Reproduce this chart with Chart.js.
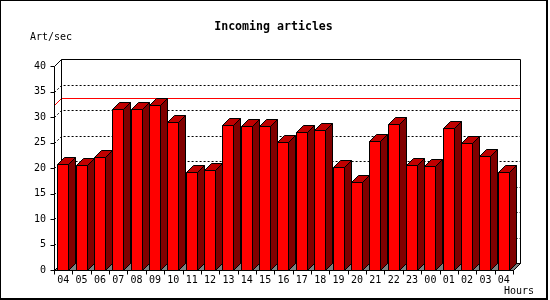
<!DOCTYPE html>
<html>
<head>
<meta charset="utf-8">
<title>Incoming articles</title>
<script src="https://cdn.jsdelivr.net/npm/chart.js@4/dist/chart.umd.min.js"></script>
<style>
  html, body { margin: 0; padding: 0; background: #fff; }
  #wrap { position: relative; width: 550px; height: 300px; }
</style>
</head>
<body>
<div id="wrap"><canvas id="chart" width="550" height="300"></canvas></div>
<script>
const hours = ['04', '05', '06', '07', '08', '09', '10', '11', '12', '13', '14', '15', '16',
               '17', '18', '19', '20', '21', '22', '23', '00', '01', '02', '03', '04'];
const articles = [20.8, 20.6, 22.2, 31.7, 31.7, 32.5, 29.1, 19.3, 19.7, 28.5, 28.3, 28.2, 25.2,
                  27.2, 27.5, 20.3, 17.3, 25.4, 28.7, 20.6, 20.5, 27.9, 25.0, 22.4, 19.3];
const yTicks = [0, 5, 10, 15, 20, 25, 30, 35, 40];

const titleText = 'Incoming articles';
const yUnit = 'Art/sec';
const xUnit = 'Hours';

const DEPTH = 7; // 3d offset of the back wall, px
const FONT = '"DejaVu Sans Mono", "Liberation Mono", monospace';

// crisp 1px line helper
function line(ctx, pts, color, dash) {
  ctx.save();
  ctx.strokeStyle = color;
  ctx.lineWidth = 1;
  ctx.setLineDash(dash || []);
  ctx.beginPath();
  pts.forEach(([x, y], i) => i ? ctx.lineTo(x + 0.5, y + 0.5) : ctx.moveTo(x + 0.5, y + 0.5));
  ctx.stroke();
  ctx.restore();
}

function poly(ctx, pts, fill) {
  ctx.beginPath();
  pts.forEach(([x, y], i) => i ? ctx.lineTo(x + 0.5, y + 0.5) : ctx.moveTo(x + 0.5, y + 0.5));
  ctx.closePath();
  ctx.fillStyle = fill;
  ctx.fill();
  ctx.strokeStyle = '#000';
  ctx.lineWidth = 1;
  ctx.stroke();
}

const bars3d = {
  id: 'bars3d',
  beforeDraw(chart) {
    const ctx = chart.ctx;
    // frame round the whole picture
    ctx.save();
    ctx.fillStyle = '#000';
    ctx.fillRect(0, 0, 548, 300);
    ctx.fillStyle = '#fff';
    ctx.fillRect(1, 1, 545, 297);
    ctx.restore();
  },
  beforeDatasetsDraw(chart) {
    const ctx = chart.ctx;
    const { left, right, bottom } = chart.chartArea;
    const ys = chart.scales.y, xs = chart.scales.x;
    const py = v => Math.round(ys.getPixelForValue(v));
    const x0 = Math.round(left), x1 = Math.round(right), yB = Math.round(bottom);
    const yT = py(yTicks[yTicks.length - 1]);
    const D = DEPTH;

    // floor
    ctx.save();
    poly(ctx, [[x0, yB], [x0 + D, yB - D], [x1 + D, yB - D], [x1, yB]], '#808080');
    ctx.restore();

    // dotted grid on the back wall
    yTicks.slice(1, -1).forEach(v => {
      const y = py(v);
      line(ctx, [[x0, y], [x0 + D, y - D], [x1 + D, y - D]], '#000', [2, 2]);
    });

    // peak line
    const r = py(Math.max(...articles));
    line(ctx, [[x0, r], [x0 + D, r - D], [x1 + D, r - D]], '#ff0000');

    // back wall
    line(ctx, [[x0 + D, yB - D], [x0 + D, yT - D], [x1 + D, yT - D], [x1 + D, yB - D]], '#000');
    line(ctx, [[x0, yT], [x0 + D, yT - D]], '#000');
    line(ctx, [[x1, yB], [x1 + D, yB - D]], '#000');

    // front axes
    line(ctx, [[x0, yT], [x0, yB], [x1, yB]], '#000');
    yTicks.forEach(v => line(ctx, [[x0 - 4, py(v)], [x0, py(v)]], '#000'));
    const n = hours.length;
    for (let i = 0; i <= n; i++) {
      const xp = Math.round(xs.getPixelForValue(i - 0.5));
      line(ctx, [[xp, yB], [xp, yB + 4]], '#000');
    }
  },
  afterDatasetsDraw(chart) {
    const ctx = chart.ctx;
    const D = DEPTH;
    const meta = chart.getDatasetMeta(0);
    ctx.save();
    meta.data.forEach(el => {
      const w = Math.round(el.width);
      const xl = Math.round(el.x - el.width / 2 - 0.5);
      const top = Math.round(el.y), base = Math.round(el.base);
      // front
      poly(ctx, [[xl, base], [xl, top], [xl + w, top], [xl + w, base]], '#ff0000');
      // top
      poly(ctx, [[xl, top], [xl + D, top - D], [xl + w + D, top - D], [xl + w, top]], '#c00000');
      // side
      poly(ctx, [[xl + w, top], [xl + w + D, top - D], [xl + w + D, base - D], [xl + w, base]], '#800000');
    });
    ctx.restore();
  },
  afterDraw(chart) {
    const ctx = chart.ctx;
    ctx.save();
    ctx.fillStyle = '#000';
    ctx.textBaseline = 'middle';
    ctx.font = 'bold 11.6px ' + FONT;
    ctx.textAlign = 'center';
    ctx.fillText(titleText, 273.5, 27);
    ctx.font = '10px ' + FONT;
    ctx.textAlign = 'left';
    ctx.fillText(yUnit, 30, 37);
    ctx.fillText(xUnit, 504, 291.5);
    ctx.restore();
  }
};

new Chart(document.getElementById('chart'), {
  type: 'bar',
  data: {
    labels: hours,
    datasets: [{
      data: articles,
      backgroundColor: 'rgba(0,0,0,0)',
      borderWidth: 0,
      barPercentage: 0.6,
      categoryPercentage: 1
    }]
  },
  options: {
    responsive: false,
    devicePixelRatio: 1,
    animation: false,
    events: [],
    layout: { padding: { top: 66.4, right: 37, left: 0, bottom: 0 } },
    plugins: {
      legend: { display: false },
      tooltip: { enabled: false },
      title: { display: false }
    },
    scales: {
      x: {
        grid: { display: false, drawTicks: false },
        border: { display: false },
        ticks: {
          color: '#000',
          font: { family: FONT, size: 10 },
          padding: 4,
          maxRotation: 0,
          autoSkip: false
        },
        afterFit: s => { s.height = 30; }
      },
      y: {
        min: 0,
        max: 40,
        grid: { display: false, drawTicks: false },
        border: { display: false },
        afterBuildTicks: s => { s.ticks = yTicks.map(v => ({ value: v })); },
        ticks: {
          color: '#000',
          font: { family: FONT, size: 10 },
          padding: 8
        },
        afterFit: s => { s.width = 54; }
      }
    }
  },
  plugins: [bars3d]
});
</script>
</body>
</html>
